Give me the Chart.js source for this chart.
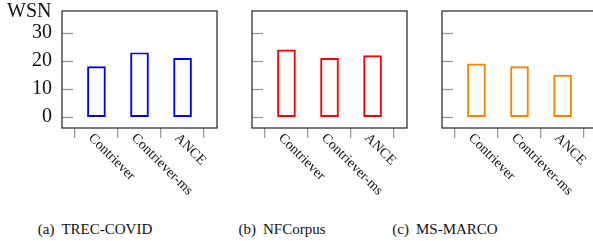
<!DOCTYPE html>
<html>
<head>
<meta charset="utf-8">
<script src="https://cdn.jsdelivr.net/npm/chart.js@4"></script>
<style>
  body { margin: 0; width: 593px; height: 241px; overflow: hidden; background: #fff; position: relative; }
  canvas { position: absolute; left: 0; top: 0; }
  .txt { position: absolute; font-family: "Liberation Serif", "Times New Roman", serif; color: #111; white-space: nowrap; }
  .cap { font-size: 15px; line-height: 16px; top: 221px; transform: translateX(-50%); }
  .cap span { margin-right: 7px; }
</style>
</head>
<body>
<canvas id="c1" width="620" height="200"></canvas>
<canvas id="c2" width="620" height="200"></canvas>
<canvas id="c3" width="620" height="200"></canvas>
<div class="txt" style="left:7px; top:1px; font-size:20px; line-height:19px;">WSN</div>
<div class="txt cap" style="left:95px;"><span>(a)</span>TREC-COVID</div>
<div class="txt cap" style="left:282px;"><span>(b)</span>NFCorpus</div>
<div class="txt cap" style="left:445px;"><span>(c)</span>MS-MARCO</div>

<script>
// --- data ---
const categories = ['Contriever', 'Contriever-ms', 'ANCE'];
const trecCovid = [18, 23, 21];
const nfCorpus = [24, 21, 22];
const msMarco = [19, 18, 15];
const yTicks = [0, 10, 20, 30];

const FONT = '"Liberation Serif", "Times New Roman", serif';
const CANVAS_W = 620;
const BOX_W = 155;

// draws the closed box, inner y tick marks and the rotated category labels
const boxPlugin = {
    id: 'box',
    afterDraw(chart) {
        const ctx = chart.ctx;
        const a = chart.chartArea;
        const x = chart.scales.x, y = chart.scales.y;
        ctx.save();
        // inward y ticks
        ctx.strokeStyle = '#999';
        ctx.lineWidth = 1.3;
        yTicks.forEach(v => {
            const py = Math.round(y.getPixelForValue(v)) + 0.5;
            ctx.beginPath();
            ctx.moveTo(a.left, py);
            ctx.lineTo(a.left + 11, py);
            ctx.stroke();
        });
        // frame
        ctx.strokeStyle = '#222';
        ctx.lineWidth = 1.2;
        ctx.strokeRect(a.left, a.top, a.right - a.left, a.bottom - a.top);
        // x labels, rotated down-right
        ctx.fillStyle = '#111';
        ctx.font = '14px ' + FONT;
        ctx.textAlign = 'left';
        ctx.textBaseline = 'top';
        categories.forEach((c, i) => {
            ctx.save();
            ctx.translate(x.getPixelForValue(i) - 1, a.bottom + 3);
            ctx.rotate(Math.PI / 4);
            ctx.fillText(c, 0, 0);
            ctx.restore();
        });
        ctx.restore();
    }
};

function makePanel(id, values, color, boxLeft, showY) {
    const yWidth = showY ? 62 : 10;
    new Chart(document.getElementById(id), {
        type: 'bar',
        data: {
            datasets: [{
                data: values.map((v, i) => ({ x: i, y: v })),
                backgroundColor: 'rgba(0,0,0,0)',
                borderColor: color,
                borderWidth: 1.3,
                borderSkipped: false,
                barThickness: 18
            }]
        },
        options: {
            responsive: false,
            animation: false,
            layout: { padding: { left: boxLeft - yWidth, right: CANVAS_W - boxLeft - BOX_W, top: 11, bottom: 0 } },
            plugins: { legend: { display: false }, tooltip: { enabled: false } },
            scales: {
                x: {
                    type: 'linear',
                    offset: false,
                    min: -0.8, max: 2.8,
                    afterBuildTicks: s => { s.ticks = [-0.5, 0.5, 1.5, 2.5].map(v => ({ value: v })); },
                    afterFit: s => { s.height = 72; s.paddingLeft = 0; s.paddingRight = 0; },
                    ticks: { display: false },
                    border: { display: false },
                    grid: { offset: false, drawOnChartArea: false, drawTicks: true, tickLength: 10, tickColor: '#999', lineWidth: 1.3 }
                },
                y: {
                    min: -3.9, max: 37.9,
                    afterBuildTicks: s => { s.ticks = yTicks.map(v => ({ value: v })); },
                    afterFit: s => { s.width = yWidth; s.paddingTop = 0; s.paddingBottom = 0; },
                    border: { display: false },
                    grid: { drawOnChartArea: false, drawTicks: false },
                    ticks: { display: showY, padding: 10, color: '#111', font: { family: FONT, size: 20 } }
                }
            }
        },
        plugins: [boxPlugin]
    });
}

makePanel('c1', trecCovid, '#0000ff', 62, true);
makePanel('c2', nfCorpus, '#ff0000', 252, false);
makePanel('c3', msMarco, '#ff8000', 442, false);
</script>
</body>
</html>
